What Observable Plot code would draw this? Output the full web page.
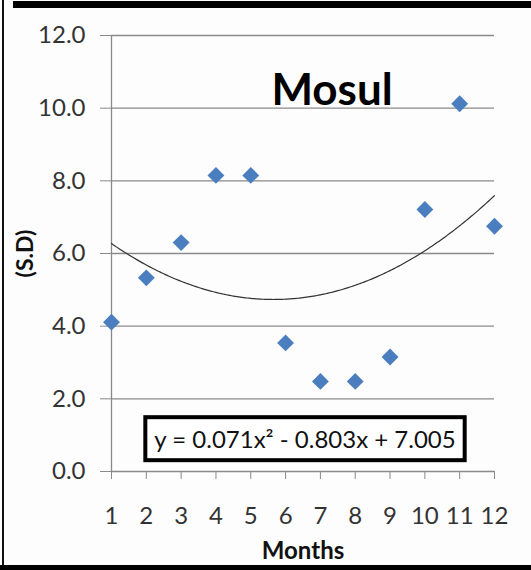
<!DOCTYPE html>
<html><head><meta charset="utf-8">
<script src="https://cdn.jsdelivr.net/npm/d3@7"></script>
<script src="https://cdn.jsdelivr.net/npm/@observablehq/plot@0.6"></script>
<style>
body{margin:0;background:#fff;}
#chart{position:relative;width:531px;height:570px;overflow:hidden;font-family:Lato,"Open Sans",sans-serif;background:#fdfdfd;}
#chart .top{position:absolute;left:13px;top:1px;width:518px;height:7px;background:#000;}
#chart .left{position:absolute;left:2px;top:0;width:2px;height:570px;background:#111;}
#chart .bottom{position:absolute;left:0;top:565px;width:531px;height:5px;background:#000;}
#chart svg{position:absolute;left:0;top:0;}
</style></head><body>
<div id="chart"><div class="top"></div><div class="left"></div><div class="bottom"></div></div>
<script>
const months = [1,2,3,4,5,6,7,8,9,10,11,12];
const sd = [4.11,5.33,6.30,8.15,8.15,3.54,2.48,2.48,3.15,7.21,10.12,6.75];
const yTicks = [0,2,4,6,8,10,12];
const coef = [0.071,-0.803,7.005];
const title = "Mosul", xLabel = "Months", yLabel = "(S.D)";

const points = months.map((m,i)=>({month:m, sd:sd[i]}));
const trend = d3.range(1, 12.0001, 0.05).map(x=>({x, y: coef[0]*x*x + coef[1]*x + coef[2]}));
const eqText = `y = ${coef[0]}x² - ${Math.abs(coef[1])}x + ${coef[2]}`;

const plot = Plot.plot({
  width:531, height:570,
  marginLeft:111, marginRight:37, marginTop:35, marginBottom:99,
  style:{fontFamily:"Lato, 'Open Sans', sans-serif", fontSize:"24px", color:"#333", background:"transparent"},
  x:{domain:[1,12]},
  y:{domain:[0,12]},
  marks:[
    Plot.ruleY(yTicks,{stroke:"#8a8a8a", strokeWidth:1.3}),
    Plot.ruleX([1],{stroke:"#8a8a8a", strokeWidth:1.3}),
    Plot.axisY(yTicks,{tickSize:11, tickPadding:15, tickFormat:d3.format(".1f"), stroke:"#8a8a8a", fill:"#333", label:null, fontSize:24}),
    Plot.axisX(months,{tickSize:8, tickPadding:27, stroke:"#8a8a8a", fill:"#333", label:null, fontSize:24}),
    Plot.line(trend,{x:"x", y:"y", stroke:"#333", strokeWidth:1.2, curve:"linear"}),
    Plot.dot(points,{x:"month", y:"sd", symbol:"diamond2", r:7.6, fill:"#4a7ebf", stroke:"none"}),
    Plot.text([title],{frameAnchor:"top", lineAnchor:"top", dx:29, dy:38, text:d=>d, fontSize:44, fontWeight:"bold", fill:"#000"}),
    Plot.text([yLabel],{frameAnchor:"left", textAnchor:"middle", dx:-86, text:d=>d, rotate:-90, fontSize:23, fontWeight:"bold", fill:"#111"}),
    Plot.text([xLabel],{frameAnchor:"bottom", lineAnchor:"bottom", dy:87, text:d=>d, fontSize:24, fontWeight:"bold", fill:"#111"}),
    Plot.text([eqText],{frameAnchor:"bottom", lineAnchor:"middle", dx:2, dy:-31, text:d=>d, fontSize:24, fill:"#111"})
  ]
});
const chart = document.getElementById("chart");
chart.appendChild(plot);
const eq = Array.from(plot.querySelectorAll("text")).find(t=>t.textContent.startsWith("y ="));
if (eq) {
  const bb = eq.getBBox();
  const rect = document.createElementNS("http://www.w3.org/2000/svg","rect");
  rect.setAttribute("x", bb.x - 9);
  rect.setAttribute("y", bb.y - 7);
  rect.setAttribute("width", bb.width + 18);
  rect.setAttribute("height", bb.height + 14);
  rect.setAttribute("fill", "#fff");
  rect.setAttribute("stroke", "#000");
  rect.setAttribute("stroke-width", 4);
  const tr = eq.getAttribute("transform");
  if (tr) rect.setAttribute("transform", tr);
  eq.parentNode.insertBefore(rect, eq);
}
</script>
</body></html>
